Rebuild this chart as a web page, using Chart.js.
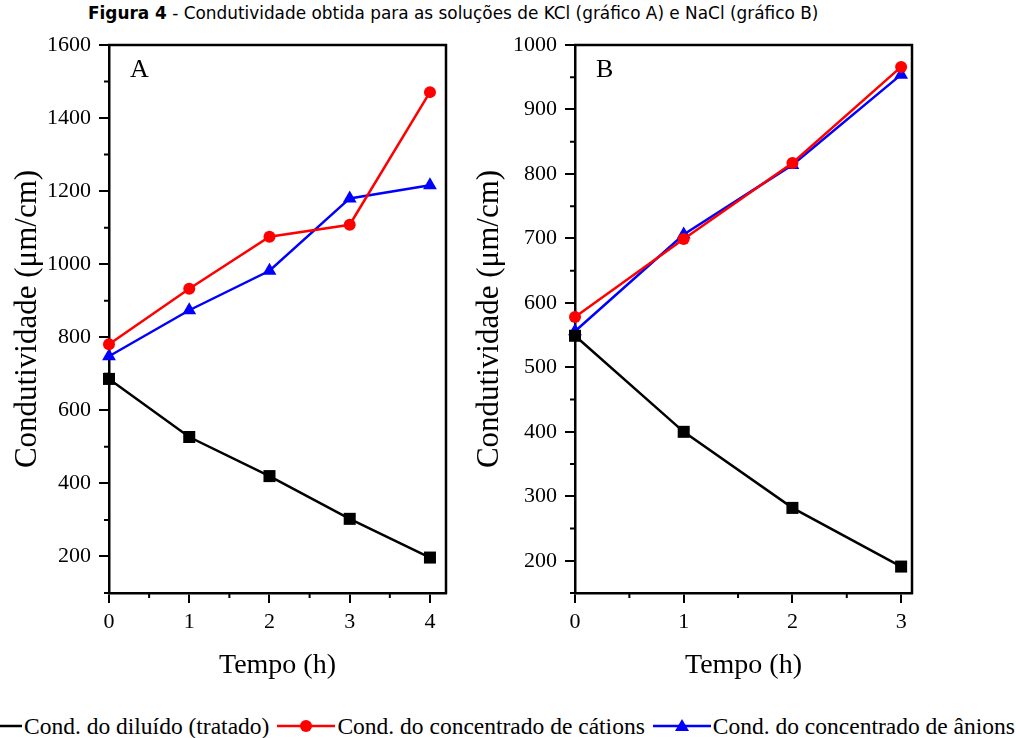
<!DOCTYPE html>
<html>
<head>
<meta charset="utf-8">
<script src="https://cdn.jsdelivr.net/npm/chart.js@4.4.1/dist/chart.umd.min.js"></script>
<style>
  body { margin: 0; background: #fff; width: 1016px; height: 738px; overflow: hidden; position: relative; }
  #title { position: absolute; left: 88px; top: 3px; font-family: "Liberation Sans Narrow", "DejaVu Sans Condensed", sans-serif;
           font-size: 17px; white-space: nowrap; transform-origin: 0 0; color: #000; }
  canvas { position: absolute; top: 0; }
  #chartA { left: 0; }
  #chartB { left: 460px; }
  #legend { position: absolute; top: 712px; left: -36px; display: flex; align-items: center; white-space: nowrap;
            font-family: "Liberation Serif", serif; font-size: 23.5px; line-height: 28px; color: #000; }
  #legend svg { display: block; margin-right: 2px; }
  #legend span { margin-right: 8px; }
</style>
</head>
<body>
<div id="title"><b>Figura 4</b> - Condutividade obtida para as soluções de KCl (gráfico A) e NaCl (gráfico B)</div>
<canvas id="chartA" width="460" height="700"></canvas>
<canvas id="chartB" width="470" height="700"></canvas>
<div id="legend"></div>
<script>
var BLACK = "#000000";
var RED = "#ff0000";
var BLUE = "#0000ff";

var SERIES = ["Cond. do diluído (tratado)", "Cond. do concentrado de cátions", "Cond. do concentrado de ânions"];

// grafico A - KCl
let HOURS_A = [0, 1, 2, 3, 4];
let DIL_A = [686, 527, 420, 303, 197];
let CAT_A = [781, 933, 1075, 1108, 1471];
let ANI_A = [748, 874, 982, 1180, 1216];

// grafico B - NaCl
let HOURS_B = [0, 1, 2, 3];
let DIL_B = [549, 400, 282, 191];
let CAT_B = [578, 699, 817, 966];
let ANI_B = [556, 706, 814, 954];

var SERIF = '"Liberation Serif", "Times New Roman", serif';

function pts(xs, ys) {
  return xs.map(function (x, i) { return { x: x, y: ys[i] }; });
}

function ds(label, xs, ys, color, shape, r) {
  return {
    label: label,
    data: pts(xs, ys),
    borderColor: color,
    backgroundColor: color,
    borderWidth: 2.5,
    pointStyle: shape,
    pointRadius: r,
    pointHoverRadius: r,
    pointBorderWidth: 0,
    clip: false
  };
}

function isMajor(v, step) {
  return Math.abs(v / step - Math.round(v / step)) < 1e-6;
}

var framePlugin = {
  id: 'frame',
  afterDraw: function (chart, args, o) {
    var ctx = chart.ctx, a = chart.chartArea;
    var xs = chart.scales.x, ys = chart.scales.y;
    ctx.save();
    ctx.strokeStyle = BLACK;
    ctx.lineWidth = 2.5;
    ctx.beginPath();
    ctx.moveTo(a.left - 1, a.top);
    ctx.lineTo(a.right, a.top);
    ctx.lineTo(a.right, a.bottom + 1);
    ctx.stroke();
    // minor ticks
    ctx.lineWidth = 2;
    ctx.beginPath();
    var n = Math.round(xs.max / o.xMinor);
    for (var i = 0; i <= n; i++) {
      var v = i * o.xMinor;
      if (v > xs.max || isMajor(v, 1)) continue;
      var px = xs.getPixelForValue(v);
      ctx.moveTo(px, a.bottom);
      ctx.lineTo(px, a.bottom + 5);
    }
    var start = Math.ceil(ys.min / o.yMinor);
    var end = Math.floor(ys.max / o.yMinor);
    for (var j = start; j <= end; j++) {
      var w = j * o.yMinor;
      if (isMajor(w, o.yMajor)) continue;
      var py = ys.getPixelForValue(w);
      ctx.moveTo(a.left, py);
      ctx.lineTo(a.left - 5, py);
    }
    ctx.stroke();
    ctx.fillStyle = BLACK;
    ctx.font = '26px ' + SERIF;
    ctx.textBaseline = 'alphabetic';
    ctx.fillText(o.letter, a.left + 21, a.top + 32);
    ctx.restore();
  }
};

function plain(v) { return String(v); }

function makeChart(id, hours, dil, cat, ani, cfg) {
  var tickFont = { family: SERIF, size: 22 };
  return new Chart(document.getElementById(id).getContext('2d'), {
    type: 'line',
    data: {
      datasets: [
        ds(SERIES[0], hours, dil, BLACK, 'rect', 8.5),
        ds(SERIES[1], hours, cat, RED, 'circle', 6),
        ds(SERIES[2], hours, ani, BLUE, 'triangle', 8)
      ]
    },
    options: {
      responsive: false,
      animation: false,
      layout: { padding: { left: 0, top: 45, right: cfg.padRight, bottom: 17 } },
      plugins: {
        legend: { display: false },
        tooltip: { enabled: false },
        frame: { letter: cfg.letter, xMinor: 0.5, yMinor: cfg.yMinor, yMajor: cfg.yStep }
      },
      scales: {
        x: {
          type: 'linear',
          min: 0,
          max: cfg.xMax,
          afterFit: function (s) { s.height = 90; },
          ticks: { stepSize: 1, includeBounds: false, font: tickFont, color: BLACK, padding: 6, maxRotation: 0, callback: plain },
          grid: { drawOnChartArea: false, tickLength: 10, color: BLACK, lineWidth: 2 },
          border: { color: BLACK, width: 2.5 },
          title: { display: true, text: 'Tempo (h)', font: { family: SERIF, size: 28 }, color: BLACK, padding: { top: 0, bottom: 1 } }
        },
        y: {
          type: 'linear',
          min: cfg.yMin,
          max: cfg.yMax,
          afterFit: function (s) { s.width = cfg.yWidth; },
          ticks: { stepSize: cfg.yStep, includeBounds: false, font: tickFont, color: BLACK, padding: 8, callback: plain },
          grid: { drawOnChartArea: false, tickLength: 10, color: BLACK, lineWidth: 2 },
          border: { color: BLACK, width: 2.5 },
          title: { display: true, text: 'Condutividade (μm/cm)', font: { family: SERIF, size: 31 }, color: BLACK, padding: { top: cfg.titlePad, bottom: 0 } }
        }
      }
    },
    plugins: [framePlugin]
  });
}

makeChart('chartA', HOURS_A, DIL_A, CAT_A, ANI_A,
  { letter: 'A', xMax: 4.2, yMin: 100, yMax: 1600, yStep: 200, yMinor: 100, yWidth: 109, padRight: 14, titlePad: 9 });
makeChart('chartB', HOURS_B, DIL_B, CAT_B, ANI_B,
  { letter: 'B', xMax: 3.1, yMin: 150, yMax: 1000, yStep: 100, yMinor: 50, yWidth: 115, padRight: 18, titlePad: 11 });

// legend shared by both charts
function sample(color, shape) {
  var m = '';
  if (shape === 'rect') m = '<rect x="23" y="4" width="12" height="12" fill="' + color + '"/>';
  if (shape === 'circle') m = '<circle cx="29" cy="10" r="6" fill="' + color + '"/>';
  if (shape === 'triangle') m = '<polygon points="29,3 36,15 22,15" fill="' + color + '"/>';
  return '<svg width="58" height="20"><line x1="0" y1="10" x2="58" y2="10" stroke="' + color + '" stroke-width="2.5"/>' + m + '</svg>';
}
var legendHtml = '';
var COLORS = [BLACK, RED, BLUE];
var SHAPES = ['rect', 'circle', 'triangle'];
for (var k = 0; k < SERIES.length; k++) {
  legendHtml += sample(COLORS[k], SHAPES[k]) + '<span>' + SERIES[k] + '</span>';
}
document.getElementById('legend').innerHTML = legendHtml;

// stretch title to the reference width
var t = document.getElementById('title');
t.style.transform = 'scaleX(' + (730 / t.scrollWidth) + ')';
</script>
</body>
</html>
